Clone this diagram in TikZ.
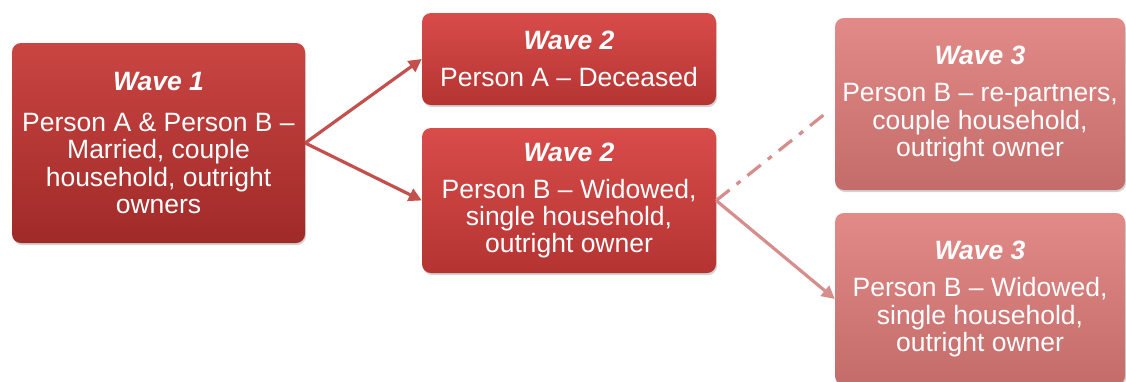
\documentclass[tikz,border=0pt]{standalone}
\usepackage{fontspec}
\setmainfont{Liberation Sans}
\usetikzlibrary{shadings,shadows,arrows.meta}
\definecolor{boxAtop}{HTML}{C94542}
\definecolor{boxAbot}{HTML}{A02A28}
\definecolor{boxBtop}{HTML}{D84C4A}
\definecolor{boxBbot}{HTML}{B43432}
\definecolor{boxCtop}{HTML}{E28A88}
\definecolor{boxCbot}{HTML}{C46C6A}
\definecolor{arrA}{HTML}{C4504E}
\definecolor{arrC}{HTML}{D58E8C}
\tikzset{
  wbox/.style={rounded corners=9pt, text=white, align=center, inner sep=0pt,
    font=\fontsize{26.5}{27.3}\selectfont,
    drop shadow={opacity=0.35, shadow xshift=1pt, shadow yshift=-2pt}},
  wone/.style={wbox, top color=boxAtop, bottom color=boxAbot},
  wtwo/.style={wbox, top color=boxBtop, bottom color=boxBbot},
  wthree/.style={wbox, top color=boxCtop, bottom color=boxCbot},
  conA/.style={draw=arrA, line width=3.2pt, -{Triangle[length=13pt,width=13pt]}},
  conC/.style={draw=arrC, line width=3.2pt, -{Triangle[length=13pt,width=13pt]}},
  conD/.style={draw=arrC, line width=3.2pt, dash pattern=on 17pt off 9pt on 5pt off 9pt}
}
\newcommand{\wavetitle}[2][10pt]{\textbf{\textit{#2}}\\[#1]}
\begin{document}
\begin{tikzpicture}[x=1pt,y=-1pt]
\useasboundingbox (0,0) rectangle (1126,381);
\node[wone, minimum width=293pt, minimum height=200pt] (w1) at (158.5,143)
  {\wavetitle[14pt]{Wave 1}Person A \& Person B –\\Married, couple\\household, outright\\owners};
\node[wtwo, minimum width=294pt, minimum height=92pt] (w2a) at (569,59)
  {\wavetitle{Wave 2}Person A – Deceased};
\node[wtwo, minimum width=294pt, minimum height=145pt] (w2b) at (569,200.5)
  {\wavetitle{Wave 2}Person B – Widowed,\\single household,\\outright owner};
\node[wthree, minimum width=290pt, minimum height=172pt] (w3a) at (980,104)
  {\wavetitle{Wave 3}Person B – re-partners,\\couple household,\\outright owner};
\node[wthree, minimum width=290pt, minimum height=172pt] (w3b) at (980,299)
  {\wavetitle{Wave 3}Person B – Widowed,\\single household,\\outright owner};
\coordinate (d3) at (826,113);
\draw[conA] (w1.east) -- (w2a.west);
\draw[conA] (w1.east) -- (w2b.west);
\draw[conD] (w2b.east) -- (d3);
\draw[conC] (w2b.east) -- (w3b.west);
\end{tikzpicture}
\end{document}
